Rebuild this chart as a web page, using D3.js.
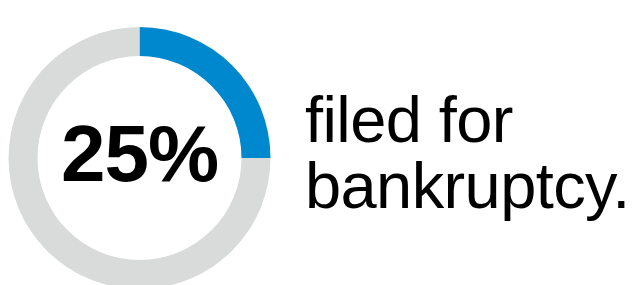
<!DOCTYPE html>
<html lang="en">
<head>
<meta charset="utf-8">
<script src="https://d3js.org/d3.v7.min.js"></script>
<style>
  html, body { margin: 0; padding: 0; background: #fff; }
  svg { display: block; }
</style>
</head>
<body>
<div id="chart"></div>
<script>
// data
var labels = ["filed for bankruptcy", "other"];
var values = [25, 75];
var colors = ["#0088ce", "#d9dbda"];
var bigLabel = "25%";
var caption = ["filed for", "bankruptcy."];

var width = 632, height = 285;
var cx = 139.5, cy = 158;
var outerR = 131, innerR = 102;

var svg = d3.select("#chart")
  .append("svg")
    .attr("width", width)
    .attr("height", height);

var pie = d3.pie().sort(null).value(function(d) { return d; });
var arc = d3.arc().innerRadius(innerR).outerRadius(outerR);

var g = svg.append("g")
  .attr("transform", "translate(" + cx + "," + cy + ")");

g.selectAll("path")
  .data(pie(values))
  .enter()
  .append("path")
    .attr("d", arc)
    .attr("fill", function(d, i) { return colors[i]; });

// center number
g.append("text")
  .attr("x", 0)
  .attr("y", 23)
  .attr("text-anchor", "middle")
  .style("font-family", "'Liberation Sans', Arial, sans-serif")
  .style("font-weight", "bold")
  .style("font-size", "80px")
  .style("letter-spacing", "-1px")
  .attr("fill", "#000")
  .text(bigLabel);

// caption on the right
svg.append("g").selectAll("text")
  .data(caption)
  .enter()
  .append("text")
    .attr("x", 305)
    .attr("y", function(d, i) { return 141.5 + i * 66.5; })
    .style("font-family", "'Liberation Sans', Arial, sans-serif")
    .style("font-size", "65px")
    .style("letter-spacing", "-0.6px")
    .attr("fill", "#000")
    .text(function(d) { return d; });
</script>
</body>
</html>
